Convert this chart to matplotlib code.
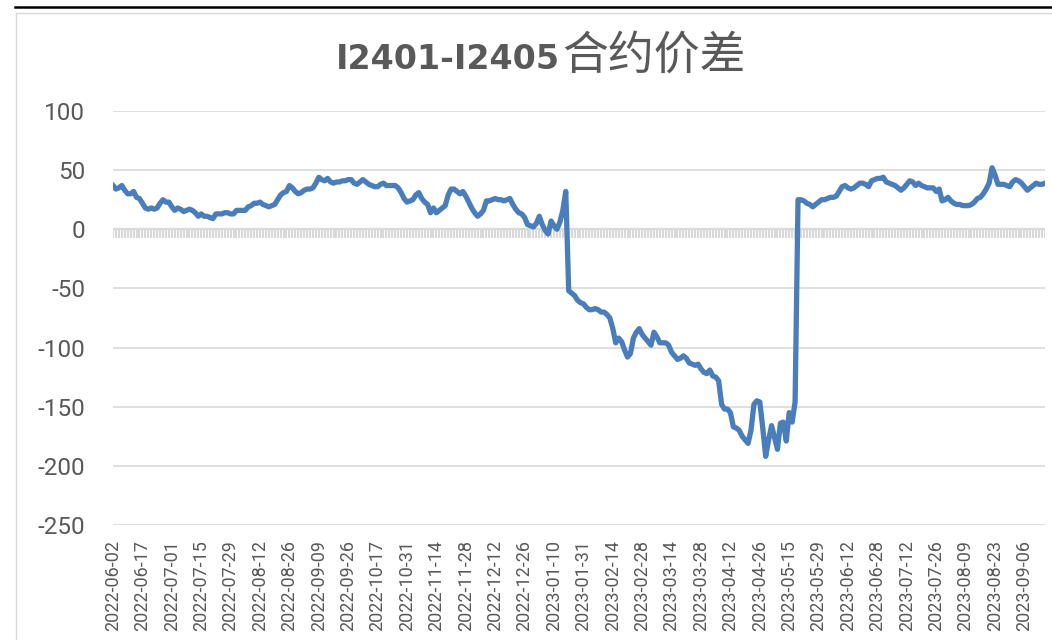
import pandas as pd
import matplotlib as mpl
mpl.use('Agg')
import matplotlib.pyplot as plt
from matplotlib.lines import Line2D

# weekday exchange holidays inside the window
holidays = ['2022-06-03', '2022-09-12',
            '2022-10-03', '2022-10-04', '2022-10-05', '2022-10-06', '2022-10-07',
            '2023-01-02',
            '2023-01-23', '2023-01-24', '2023-01-25', '2023-01-26', '2023-01-27',
            '2023-04-05', '2023-05-01', '2023-05-02', '2023-05-03',
            '2023-06-22', '2023-06-23']

days = pd.bdate_range('2022-06-02', '2023-09-15')
days = days[~days.isin(pd.to_datetime(holidays))]

# I2401-I2405 spread, one value per trading day
spread = [
  37, 34, 35, 37, 33, 30, 30, 32, 27, 26,
  22, 18, 17, 18, 17, 18, 22, 25, 23, 23,
  19, 16, 18, 17, 15, 16, 17, 16, 14, 11,
  13, 11, 11, 10, 9, 13, 13, 13, 14, 14,
  13, 13, 16, 16, 16, 16, 19, 20, 22, 22,
  23, 21, 20, 19, 20, 21, 25, 29, 31, 32,
  37, 35, 32, 30, 31, 33, 34, 34, 35, 39,
  44, 42, 41, 43, 40, 39, 40, 40, 41, 41,
  42, 42, 39, 38, 40, 42, 40, 38, 37, 36,
  36, 38, 39, 37, 37, 37, 37, 35, 31, 26,
  23, 24, 25, 29, 31, 26, 23, 21, 14, 18,
  14, 16, 18, 20, 29, 34, 34, 32, 30, 32,
  28, 23, 18, 14, 11, 13, 16, 24, 24, 25,
  26, 25, 25, 24, 25, 26, 21, 17, 14, 13,
  10, 4, 3, 2, 5, 11, 4, -1, -4, 7,
  3, 0, 6, 16, 32, -52, -54, -56, -60, -62,
  -63, -66, -68, -68, -67, -68, -70, -70, -72, -75,
  -84, -96, -92, -95, -102, -108, -105, -92, -87, -84,
  -89, -92, -95, -98, -87, -91, -96, -96, -96, -98,
  -104, -107, -110, -109, -107, -109, -113, -114, -115, -114,
  -118, -121, -122, -119, -124, -125, -128, -148, -152, -152,
  -155, -167, -168, -170, -175, -178, -181, -170, -148, -145,
  -146, -168, -192, -178, -166, -176, -186, -164, -163, -179,
  -155, -163, -146, 25, 25, 24, 22, 21, 19, 21,
  23, 25, 25, 26, 27, 27, 28, 32, 36, 37,
  35, 34, 35, 37, 39, 39, 38, 36, 41, 42,
  43, 43, 44, 40, 39, 38, 37, 35, 33, 35,
  38, 41, 40, 37, 39, 37, 36, 35, 35, 35,
  32, 34, 24, 25, 27, 24, 22, 21, 21, 20,
  20, 20, 21, 23, 26, 27, 30, 34, 39, 52,
  46, 38, 38, 38, 37, 36, 40, 42, 41, 39,
  36, 33, 35, 37, 39, 38, 38, 39,
]

yticks = [100, 50, 0, -50, -100, -150, -200, -250]
label_step = 10

n = min(len(days), len(spread))
xs = list(range(n))
grey = '#595959'

fig = plt.figure(figsize=(10.52, 6.4), dpi=100)
ax = fig.add_axes([113/1052, 1 - 525/640, (1045 - 113)/1052, (525 - 111)/640])

for y in yticks:
  if y != 0:
    ax.axhline(y, color='#d9d9d9', lw=1.2, zorder=1)
# category axis crossing at zero, with a tick at every trading day
ax.axhline(0, color='#d9d9d9', lw=1.6, zorder=1)
ax.vlines(xs, -7, 0, colors='#d9d9d9', lw=1.5, zorder=1)

ax.plot(xs, spread[:n], color='#4a7ebb', lw=3.8, solid_joinstyle='round', zorder=3)

ax.set_xlim(0, n - 1)
ax.set_ylim(-250, 100)
ax.set_yticks(yticks)
ax.set_yticklabels([str(v) for v in yticks])
ticks = xs[::label_step]
ax.set_xticks(ticks)
ax.set_xticklabels([days[i].strftime('%Y-%m-%d') for i in ticks], rotation=90)
ax.tick_params(axis='y', length=0, pad=20, labelsize=17.5, labelcolor=grey)
ax.tick_params(axis='x', length=0, pad=11, labelsize=13, labelcolor=grey)
for lab in ax.get_xticklabels() + ax.get_yticklabels():
  lab.set_family('Roboto')
for s in ax.spines.values():
  s.set_visible(False)

# title: latin part bold, chinese part regular
ty = 1 - 69/640
fig.text(560/1052, ty, 'I2401-I2405', ha='right', va='baseline',
         fontsize=24, fontweight='bold', color=grey, family='DejaVu Sans')
fig.text(562/1052, ty, '合约价差', ha='left', va='baseline',
         fontsize=33, color=grey, family=['Noto Sans CJK SC', 'DejaVu Sans'])

# chart border pieces visible in the crop
fig.add_artist(Line2D([15/1052, 1], [1 - 7/640, 1 - 7/640], color='black', lw=1.8))
fig.add_artist(Line2D([16/1052, 1], [1 - 12.5/640, 1 - 12.5/640], color='#d9d9d9', lw=1.0))
fig.add_artist(Line2D([16/1052, 16/1052], [0, 1 - 12.5/640], color='#d9d9d9', lw=1.0))

fig.savefig('out.png', dpi=100)
